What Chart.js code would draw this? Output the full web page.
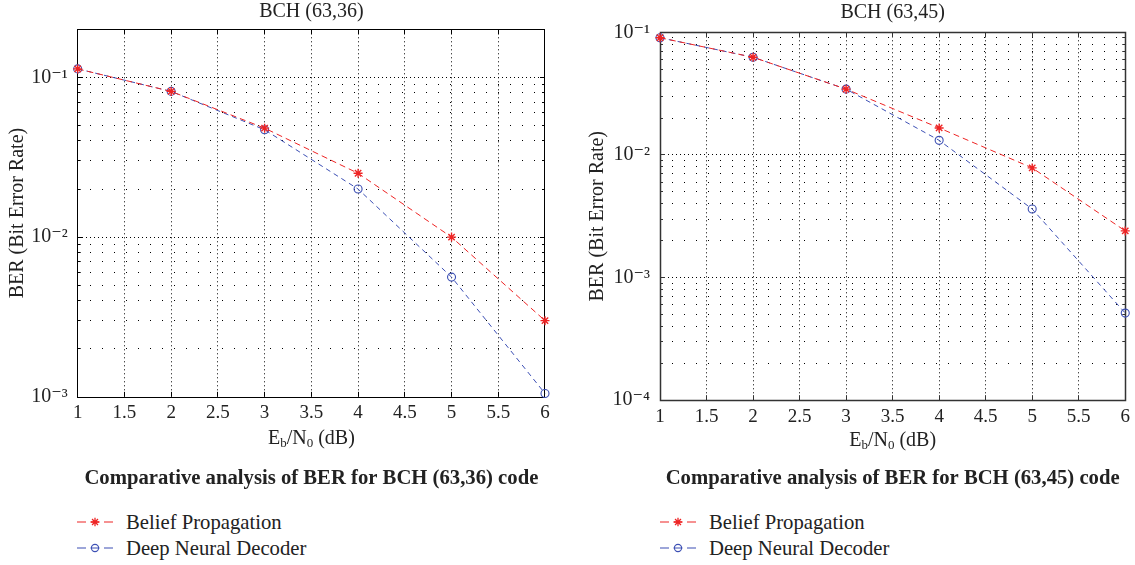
<!DOCTYPE html>
<html><head><meta charset="utf-8">
<script src="https://cdn.jsdelivr.net/npm/chart.js@4"></script>
<style>
html,body{margin:0;padding:0;background:#fff;}
body{width:1135px;height:565px;position:relative;overflow:hidden;font-family:'Liberation Serif','DejaVu Serif',serif;color:#222;}
.wrap{position:absolute;top:0;height:500px;}
.legend{position:absolute;left:0;top:0;font-size:20.7px;}
.legend .row{position:absolute;white-space:nowrap;height:26px;line-height:26px;}
.legend svg{position:absolute;top:0;}
.legend span{position:absolute;top:0;}
</style></head><body>
<div class="wrap" style="left:0;width:567px"><canvas id="c1"></canvas></div>
<div class="wrap" style="left:567px;width:568px"><canvas id="c2"></canvas></div>
<div id="lg1" class="legend"></div>
<div id="lg2" class="legend"></div>
<script>
// ---- data ----
const ebn0 = [1, 2, 3, 4, 5, 6];
const bp36 = [0.113, 0.0817, 0.0481, 0.0251, 0.0100, 0.0030];
const dnn36 = [0.113, 0.0817, 0.0470, 0.0200, 0.00562, 0.00105];
const bp45 = [0.0903, 0.0626, 0.0344, 0.0166, 0.00784, 0.0024];
const dnn45 = [0.0903, 0.0626, 0.0344, 0.01315, 0.00362, 0.000513];
const xTicks = [1, 1.5, 2, 2.5, 3, 3.5, 4, 4.5, 5, 5.5, 6];
const xTickLabels = ['1', '1.5', '2', '2.5', '3', '3.5', '4', '4.5', '5', '5.5', '6'];
const decades36 = [0.001, 0.01, 0.1];
const decadeLabels36 = ['10\u207B\u00B3', '10\u207B\u00B2', '10\u207B\u00B9'];
const decades45 = [0.0001, 0.001, 0.01, 0.1];
const decadeLabels45 = ['10\u207B\u2074', '10\u207B\u00B3', '10\u207B\u00B2', '10\u207B\u00B9'];
const minorMult = [2, 3, 4, 5, 6, 7, 8, 9];
const seriesNames = ['Belief Propagation', 'Deep Neural Decoder'];
const chartTitles = ['BCH (63,36)', 'BCH (63,45)'];
const captions = ['Comparative analysis of BER for BCH (63,36) code', 'Comparative analysis of BER for BCH (63,45) code'];
const yAxisTitle = 'BER (Bit Error Rate)';

const FAMILY = "'Liberation Serif', 'DejaVu Serif', serif";
const RED = '#ee2424';
const BLUE = '#3c4fb4';
const TXT = '#222';
Chart.defaults.font.family = FAMILY;
Chart.defaults.color = TXT;

function buildYTicks(decades, ymax) {
  const out = [];
  decades.forEach(d => {
    if (d <= ymax * 1.0000001) out.push({value: d, major: true});
    minorMult.forEach(m => { const v = +(d * m).toPrecision(6); if (v <= ymax * 1.0000001) out.push({value: v, major: false}); });
  });
  return out;
}
function isDecadeVal(decades, v) { return decades.some(d => Math.abs(v - d) / d < 1e-6); }
function alignPx(p) { return Math.round(p - 0.5) + 0.5; }

const framePlugin = {
  id: 'frame',
  beforeDatasetsDraw(chart, args, opts) {
    const {ctx, chartArea: a, scales: {x, y}} = chart;
    ctx.save();
    ctx.strokeStyle = opts.color; ctx.lineWidth = 1;
    ctx.beginPath();
    x.ticks.forEach(t => {
      if (t.value <= x.min || t.value >= x.max) return;
      const px = alignPx(x.getPixelForValue(t.value));
      ctx.moveTo(px, a.bottom); ctx.lineTo(px, a.bottom - 5);
      ctx.moveTo(px, a.top); ctx.lineTo(px, a.top + 5);
    });
    y.ticks.forEach(t => {
      if (t.value <= y.min * 1.000001 || t.value >= y.max * 0.999999) return;
      const py = alignPx(y.getPixelForValue(t.value));
      const L = t.major ? 5 : 3;
      ctx.moveTo(a.left, py); ctx.lineTo(a.left + L, py);
      ctx.moveTo(a.right, py); ctx.lineTo(a.right - L, py);
    });
    ctx.stroke();
    ctx.lineWidth = opts.width;
    ctx.strokeRect(alignPx(a.left), alignPx(a.top), Math.round(a.right - a.left), Math.round(a.bottom - a.top));
    ctx.restore();
  }
};

const xTitlePlugin = {
  id: 'xtitle',
  afterDraw(chart, args, opts) {
    const {ctx, chartArea: a} = chart;
    const parts = [['E', 20, 0], ['b', 13, 5], ['/N', 20, 0], ['0', 13, 5], [' (dB)', 20, 0]];
    ctx.save();
    ctx.fillStyle = TXT; ctx.textBaseline = 'middle';
    let w = 0;
    const ws = parts.map(p => { ctx.font = p[1] + 'px ' + FAMILY; const m = ctx.measureText(p[0]).width; w += m; return m; });
    let x0 = (a.left + a.right) / 2 - w / 2;
    parts.forEach((p, i) => { ctx.font = p[1] + 'px ' + FAMILY; ctx.fillText(p[0], x0, opts.y + p[2]); x0 += ws[i]; });
    ctx.restore();
  }
};

function makeChart(id, cfg) {
  const yT = buildYTicks(cfg.decades, cfg.ymax);
  return new Chart(document.getElementById(id), {
    type: 'line',
    data: {
      datasets: [
        {label: seriesNames[0], data: ebn0.map((x, i) => ({x, y: cfg.bp[i]})), borderColor: RED, borderWidth: 1,
         borderDash: [6, 4], pointStyle: 'star', pointRadius: 4.5, pointBorderWidth: 1.4, pointBorderColor: RED,
         pointBackgroundColor: RED, fill: false, tension: 0, clip: false},
        {label: seriesNames[1], data: ebn0.map((x, i) => ({x, y: cfg.dnn[i]})), borderColor: BLUE, borderWidth: 1,
         borderDash: [5, 4], pointStyle: 'circle', pointRadius: 4, pointBorderWidth: 1.1, pointBorderColor: BLUE,
         pointBackgroundColor: 'rgba(0,0,0,0)', fill: false, tension: 0, clip: false}
      ]
    },
    options: {
      responsive: true, maintainAspectRatio: false, animation: false,
      layout: {padding: {left: 0, right: cfg.padRight, top: 0, bottom: 0}},
      plugins: {
        legend: {display: false},
        tooltip: {enabled: false},
        title: {display: true, text: cfg.title, fullSize: false, padding: {top: cfg.tPadTop, bottom: cfg.tPadBottom},
                font: {size: 20, weight: 'normal'}, color: TXT},
        subtitle: {display: true, position: 'bottom', text: cfg.caption, fullSize: false, padding: {top: 0, bottom: 9},
                   font: {size: 20.7, weight: 'bold'}, color: TXT},
        frame: {color: cfg.frameColor, width: cfg.frameWidth},
        xtitle: {y: cfg.xTitleY}
      },
      scales: {
        x: {
          type: 'linear', min: 1, max: 6,
          afterBuildTicks: s => { s.ticks = xTicks.map(v => ({value: v})); },
          afterFit: s => { s.height = cfg.xH; },
          ticks: {autoSkip: false, maxRotation: 0, padding: 5, font: {size: 19}, color: TXT,
                  callback: (v, i) => xTickLabels[i]},
          grid: {drawTicks: false, lineWidth: 1,
                 color: c => (c.tick && (c.tick.value <= 1 || c.tick.value >= 6)) ? 'rgba(0,0,0,0)' : '#000'},
          border: {display: false, dash: [1, 3]}
        },
        y: {
          type: 'logarithmic', min: cfg.ymin, max: cfg.ymax,
          afterBuildTicks: s => { s.ticks = yT.map(t => ({value: t.value, major: t.major})); },
          afterFit: s => { s.width = cfg.yW; },
          ticks: {autoSkip: false, padding: 10, font: {size: 20}, color: TXT,
                  callback: v => { const k = cfg.decades.findIndex(d => Math.abs(v - d) / d < 1e-6); return k >= 0 ? cfg.decadeLabels[k] : ''; }},
          title: {display: true, text: yAxisTitle, padding: {top: cfg.yTitlePad, bottom: 0}, font: {size: 20}, color: TXT},
          grid: {drawTicks: false, lineWidth: 1,
                 color: c => (c.tick && (c.tick.value <= cfg.ymin * 1.000001 || c.tick.value >= cfg.ymax * 0.999999)) ? 'rgba(0,0,0,0)' : '#000'},
          border: {display: false, dash: c => (c.tick && isDecadeVal(cfg.decades, c.tick.value)) ? [1, 3] : [1, 11]}
        }
      }
    },
    plugins: [framePlugin, xTitlePlugin]
  });
}

const ch1 = makeChart('c1', {bp: bp36, dnn: dnn36, decades: decades36, decadeLabels: decadeLabels36, ymin: 0.001, ymax: 0.2,
  title: chartTitles[0], caption: captions[0], padRight: 22, tPadTop: 0, tPadBottom: 5.3, xH: 69.3, yW: 77.7, yTitlePad: 5.5,
  xTitleY: 439, frameColor: '#000', frameWidth: 1});
const ch2 = makeChart('c2', {bp: bp45, dnn: dnn45, decades: decades45, decadeLabels: decadeLabels45, ymin: 0.0001, ymax: 0.1,
  title: chartTitles[1], caption: captions[1], padRight: 7.7, tPadTop: 1, tPadBottom: 7.3, xH: 66, yW: 93, yTitlePad: 18.5,
  xTitleY: 441, frameColor: '#333', frameWidth: 1.5});

function svgMarker(style, color) {
  let m = '';
  if (style === 'star') {
    const r = 4.2, d = r * 0.7071;
    m = `<path d="M18 ${13 - r}V${13 + r}M${18 - r} 13H${18 + r}M${18 - d} ${13 - d}L${18 + d} ${13 + d}M${18 - d} ${13 + d}L${18 + d} ${13 - d}" stroke="${color}" stroke-width="1.3"/>`;
  } else {
    m = `<circle cx="18" cy="13" r="3.6" fill="none" stroke="${color}" stroke-width="1.1"/>`;
  }
  return `<svg width="36" height="26" viewBox="0 0 36 26"><line x1="0" y1="13" x2="36" y2="13" stroke="${color}" stroke-width="1.2" stroke-dasharray="9 4.5"/>${m}</svg>`;
}
function buildLegend(elId, chart, markerX, textX, rowCenters) {
  const el = document.getElementById(elId);
  chart.data.datasets.forEach((ds, i) => {
    const row = document.createElement('div');
    row.className = 'row';
    row.style.left = '0px';
    row.style.top = (rowCenters[i] - 13) + 'px';
    row.style.width = (textX + 260) + 'px';
    row.innerHTML = `<div style="position:absolute;left:${markerX}px;top:0">${svgMarker(ds.pointStyle, ds.borderColor)}</div><span style="left:${textX}px">${ds.label}</span>`;
    el.appendChild(row);
  });
}
buildLegend('lg1', ch1, 77, 126, [522, 548]);
buildLegend('lg2', ch2, 660, 709, [522, 548]);
</script>
</body></html>
